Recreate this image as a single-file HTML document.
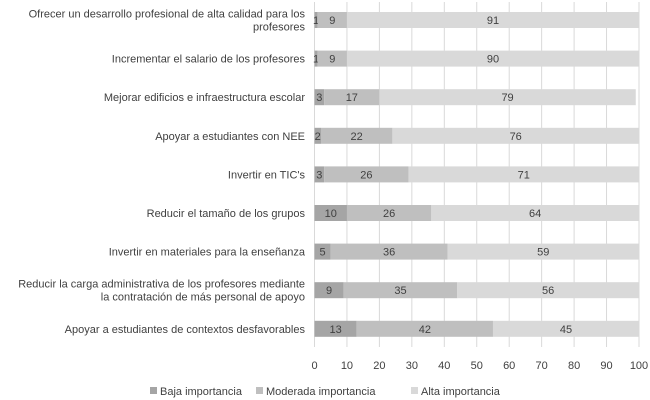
<!DOCTYPE html>
<html><head><meta charset="utf-8"><style>
body{margin:0;background:#fff;}
svg{display:block;font-family:"Liberation Sans",sans-serif;}
</style></head><body>
<svg id="c" width="650" height="400"></svg>
<script>
const categories=[
 ["Ofrecer un desarrollo profesional de alta calidad para los","profesores"],
 ["Incrementar el salario de los profesores"],
 ["Mejorar edificios e infraestructura escolar"],
 ["Apoyar a estudiantes con NEE"],
 ["Invertir en TIC's"],
 ["Reducir el tamaño de los grupos"],
 ["Invertir en materiales para la enseñanza"],
 ["Reducir la carga administrativa de los profesores mediante","la contratación de más personal de apoyo"],
 ["Apoyar a estudiantes de contextos desfavorables"]];
const baja=[1,1,3,2,3,10,5,9,13];
const moderada=[9,9,17,22,26,26,36,35,42];
const alta=[91,90,79,76,71,64,59,56,45];
const ticks=[0,10,20,30,40,50,60,70,80,90,100];
const seriesNames=["Baja importancia","Moderada importancia","Alta importancia"];
const colors=["#a5a5a5","#bfbfbf","#d9d9d9"];
const NS="http://www.w3.org/2000/svg";
const svg=document.getElementById('c');
const x0=314.5,x1=639;
const xs=v=>x0+(x1-x0)*Math.min(v,100)/100;
const yc=i=>20+i*38.6;
const bh=16;
function el(t,a,p){const e=document.createElementNS(NS,t);for(const k in a)e.setAttribute(k,a[k]);(p||svg).appendChild(e);return e;}
ticks.forEach(t=>{
 const g=el('line',{x1:xs(t),x2:xs(t),y1:2,y2:347,stroke:'#d9d9d9','stroke-width':1});
 
 
 const tx=el('text',{x:xs(t),y:369,'text-anchor':'middle','font-size':11,fill:'#404040'});
 tx.textContent=t;
 
 
});
const series=[baja,moderada,alta];
categories.forEach((cat,i)=>{
 const y=yc(i);
 const lab=el('text',{x:305,'text-anchor':'end','font-size':11,fill:'#404040'});
 
 
 cat.forEach((line,j)=>{const ts=el('tspan',{x:305,y:y+4+(j-(cat.length-1)/2)*13},lab);ts.textContent=line;});
 let acc=0;
 series.forEach((s,k)=>{
  const v=s[i];
  const r=el('rect',{x:xs(acc),y:y-bh/2,width:Math.max(0,xs(acc+v)-xs(acc)),height:bh,fill:colors[k]});
  
  
  const t=el('text',{x:(xs(acc)+xs(acc+v))/2,y:y+4,'text-anchor':'middle','font-size':11,fill:'#404040'});
  t.textContent=v;
  
  
  acc+=v;
 });
});
const lx=[150,256,411];
seriesNames.forEach((n,k)=>{
 const r=el('rect',{x:lx[k],y:387,width:7,height:7,fill:colors[k]});
 
 
 const t=el('text',{x:lx[k]+10,y:395,'font-size':11,fill:'#404040'});
 t.textContent=n;
 
 
});
</script>
</body></html>
